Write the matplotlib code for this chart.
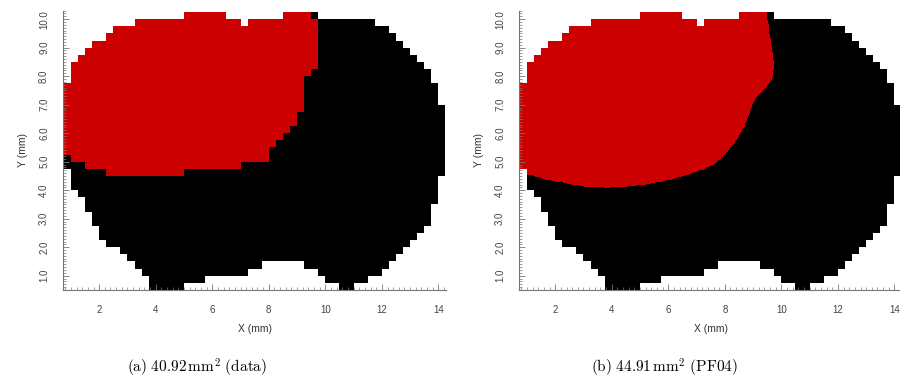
import numpy as np
import matplotlib.pyplot as plt
from matplotlib.colors import ListedColormap
from matplotlib.path import Path
from matplotlib.ticker import MultipleLocator, FormatStrFormatter

plt.rcParams['font.family'] = 'Liberation Sans'
plt.rcParams['mathtext.fontset'] = 'cm'

# detector pixels are 0.25 mm; rows are listed from the top (y = 10.25) downwards
cell = 0.25
x_left = 0.75
y_top = 10.25
n_cols = 54

# first / last lit column of each row of the detector footprint
foot_first = [17, 10, 7, 6, 4, 3, 2, 1, 1, 1,
              0, 0, 0, 0, 0, 0, 0, 0, 0, 0,
              0, 0, 1, 1, 1, 2, 3, 3, 4, 4,
              5, 5, 6, 8, 9, 10, 11, 12, 12]
foot_last = [35, 43, 45, 46, 47, 48, 49, 50, 51, 51,
             52, 52, 52, 53, 53, 53, 53, 53, 53, 53,
             53, 53, 53, 52, 52, 52, 52, 51, 51, 51,
             50, 49, 48, 47, 46, 45, 44, 42, 40]
# holes inside a row: (row, first empty column, last empty column)
foot_gaps = [(0, 23, 30), (1, 25, 25), (35, 28, 33),
             (36, 26, 35), (37, 20, 36), (38, 17, 38)]

# (a) data: red pixels per row (rows 0..22)
red_a_first = [17, 10, 7, 6, 4, 3, 2, 1, 1, 1, 0, 0, 0, 0, 0, 0, 0, 0, 0, 0, 1, 3, 6]
red_a_last = [34, 35, 35, 35, 35, 35, 35, 35, 34, 33, 33, 33, 33, 33, 32, 32,
              31, 30, 29, 28, 28, 24, 16]

# (b) PF04: smooth edge of the red region, from the top edge to the left edge (mm)
pf04_x = [9.47, 9.59, 9.68, 9.73, 9.68, 9.41, 9.17, 9.00, 8.88, 8.70, 8.43, 8.11,
          7.70, 7.23, 6.52, 5.82, 4.88, 3.82, 2.99, 2.28, 1.70, 1.22, 0.75]
pf04_y = [10.25, 9.50, 8.95, 8.35, 7.90, 7.55, 7.30, 7.07, 6.72, 6.25, 5.78, 5.37,
          4.96, 4.73, 4.49, 4.31, 4.16, 4.08, 4.14, 4.26, 4.37, 4.51, 4.62]

captions = [r'$\mathrm{(a)\ 40.92\,mm^2\ (data)}$',
            r'$\mathrm{(b)\ 44.91\,mm^2\ (PF04)}$']

red = '#cc0000'
cmap = ListedColormap(['black', red])

n_rows = len(foot_first)
foot = np.zeros((n_rows, n_cols))
for r, (a, b) in enumerate(zip(foot_first, foot_last)):
    foot[r, a:b + 1] = 1
for r, a, b in foot_gaps:
    foot[r, a:b + 1] = 0

# panel a grid
grid_a = foot.copy()
for r, (a, b) in enumerate(zip(red_a_first, red_a_last)):
    seg = grid_a[r, a:b + 1]
    seg[seg == 1] = 2
xe = x_left + cell * np.arange(n_cols + 1)
ye = y_top - cell * np.arange(n_rows + 1)

# panel b grid, finer so the smooth edge shows
k = 10
fine = np.kron(foot, np.ones((k, k)))
xf = x_left + cell / k * np.arange(n_cols * k + 1)
yf = y_top - cell / k * np.arange(n_rows * k + 1)
xc = 0.5 * (xf[:-1] + xf[1:])
yc = 0.5 * (yf[:-1] + yf[1:])
XX, YY = np.meshgrid(xc, yc)
poly = [(0.5, 10.6), (pf04_x[0], 10.6)] + list(zip(pf04_x, pf04_y)) + [(0.5, pf04_y[-1])]
inside = Path(poly).contains_points(np.column_stack([XX.ravel(), YY.ravel()])).reshape(XX.shape)
grid_b = fine.copy()
grid_b[inside & (fine == 1)] = 2

fig = plt.figure(figsize=(9, 3.89), dpi=100)
ax_a = fig.add_axes([0.0700, 0.2545, 0.4256, 0.7183])
ax_b = fig.add_axes([0.5767, 0.2545, 0.4256, 0.7183])

ax_a.pcolormesh(xe, ye, np.ma.masked_equal(grid_a, 0), cmap=cmap, vmin=1, vmax=2,
                antialiased=False, edgecolors='none')
ax_b.pcolormesh(xf, yf, np.ma.masked_equal(grid_b, 0), cmap=cmap, vmin=1, vmax=2,
                antialiased=False, edgecolors='none')

for ax, cap, cx in zip([ax_a, ax_b], captions, [197, 664]):
    ax.set_xlim(0.72, 14.27)
    ax.set_ylim(0.5, 10.3)
    ax.spines['top'].set_visible(False)
    ax.spines['right'].set_visible(False)
    for s in ['left', 'bottom']:
        ax.spines[s].set_color('#777777')
        ax.spines[s].set_linewidth(0.8)
    ax.xaxis.set_major_locator(MultipleLocator(2))
    ax.xaxis.set_minor_locator(MultipleLocator(0.2))
    ax.yaxis.set_major_locator(MultipleLocator(1))
    ax.yaxis.set_minor_locator(MultipleLocator(0.1))
    ax.yaxis.set_major_formatter(FormatStrFormatter('%.1f'))
    ax.tick_params(which='both', direction='in', colors='#777777', labelcolor='#444444',
                   labelsize=7)
    ax.tick_params(which='major', length=4, width=0.6)
    ax.tick_params(which='minor', length=2, width=0.5)
    ax.tick_params(axis='x', pad=11)
    ax.tick_params(axis='y', pad=10)
    for t in ax.get_yticklabels():
        t.set_rotation(90)
        t.set_va('center')
    ax.set_xlabel('X (mm)', fontsize=7.5, color='#333333', labelpad=6)
    ax.set_ylabel('Y (mm)', fontsize=7.5, color='#333333', labelpad=8)
    fig.text(cx / 900, 1 - 368 / 389, cap, fontsize=11, ha='center', va='center')

fig.savefig('out.png', dpi=100)
